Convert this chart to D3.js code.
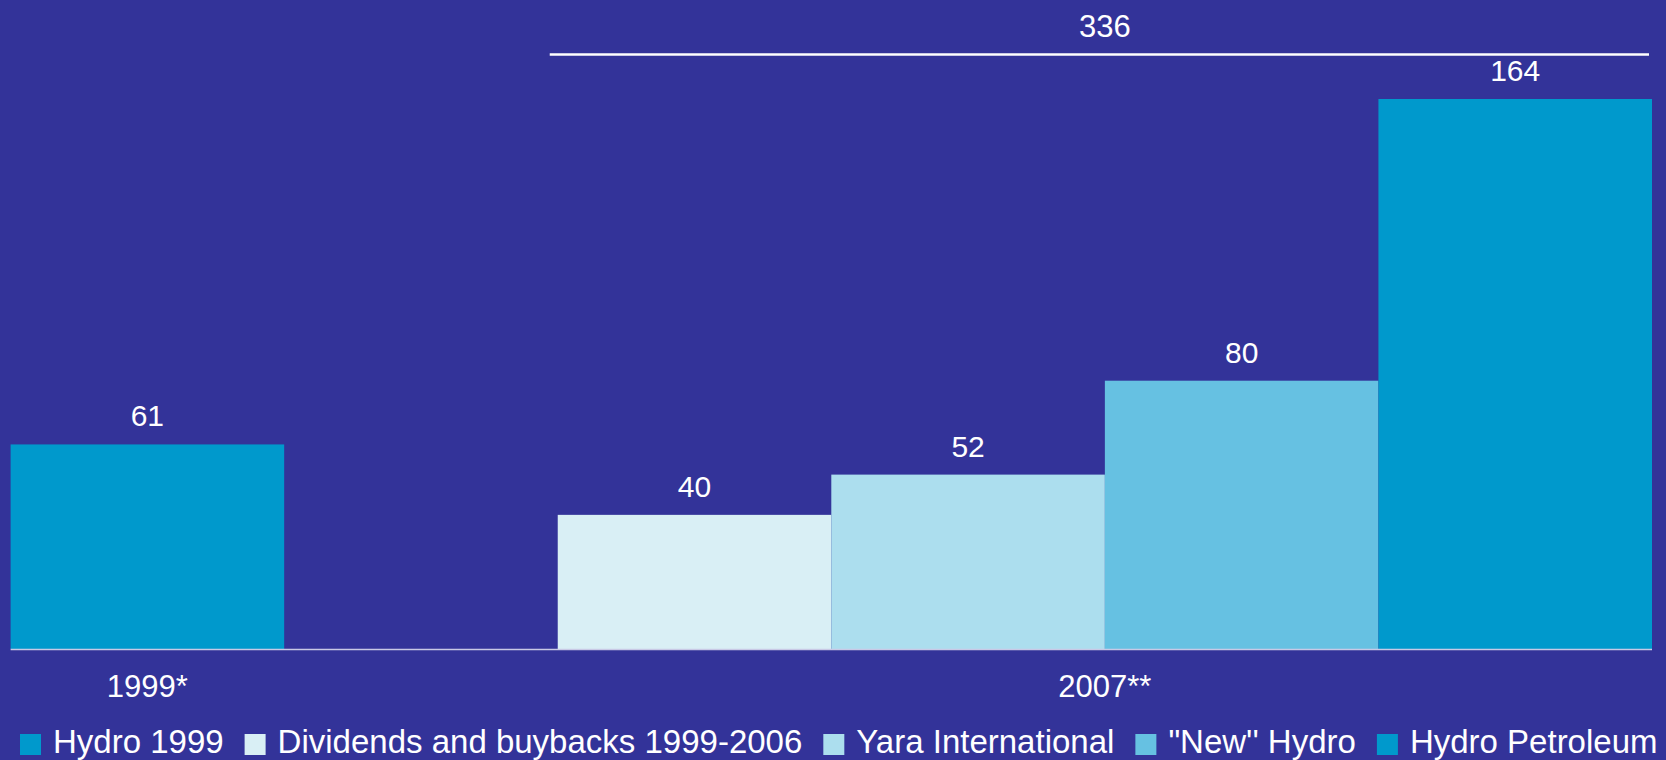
<!DOCTYPE html>
<html>
<head>
<meta charset="utf-8">
<script src="https://cdn.jsdelivr.net/npm/d3@7"></script>
<style>
  html, body { margin: 0; padding: 0; background: #333399; }
  svg { display: block; font-family: Arial, 'Liberation Sans', sans-serif; }
</style>
</head>
<body>
<div id="container"></div>
<script>
const slots = ['Hydro 1999', 'gap', 'Dividends and buybacks 1999-2006', 'Yara International', '"New\'\' Hydro', 'Hydro Petroleum'],
  series = ['Hydro 1999', 'Dividends and buybacks 1999-2006', 'Yara International', '"New\'\' Hydro', 'Hydro Petroleum'],
  values = [61, 40, 52, 80, 164],
  colours = ['#0099cc', '#d9eff5', '#acdeee', '#66c1e2', '#0099cc'],
  groups = ['1999*', '2007**'],
  groupSlots = [['Hydro 1999'], ['Dividends and buybacks 1999-2006', 'Hydro Petroleum']],
  total = 336,
  width = 1666,
  height = 760,
  baseY = 649

const svg = d3.select('#container')
  .append('svg')
    .attr('width', width)
    .attr('height', height)

const x = d3.scaleBand()
    .domain(slots)
    .range([10.6, 1652])
    .padding(0),
  y = d3.scaleLinear()
    .domain([0, 164])
    .range([baseY, 99])

// bars
svg.append('g')
  .selectAll('rect')
  .data(series)
  .enter()
  .append('rect')
    .attr('x', d => x(d))
    .attr('y', (d, i) => y(values[i]))
    .attr('width', x.bandwidth())
    .attr('height', (d, i) => y(0) - y(values[i]))
    .attr('fill', (d, i) => colours[i])

// value labels
svg.append('g')
  .selectAll('text')
  .data(series)
  .enter()
  .append('text')
    .attr('x', d => x(d) + x.bandwidth() / 2)
    .attr('y', (d, i) => y(values[i]) - 18)
    .attr('text-anchor', 'middle')
    .attr('fill', '#fff')
    .style('font-size', '30px')
    .text((d, i) => values[i])

// baseline
svg.append('line')
  .attr('x1', x.range()[0])
  .attr('x2', x.range()[1])
  .attr('y1', y(0) + 0.5)
  .attr('y2', y(0) + 0.5)
  .attr('stroke', '#c9c9e6')
  .attr('stroke-width', 1.5)

// total bracket line + label
const lx1 = x(series[1]) - 8,
  lx2 = x.range()[1] - 3
svg.append('line')
  .attr('x1', lx1)
  .attr('x2', lx2)
  .attr('y1', 54.5)
  .attr('y2', 54.5)
  .attr('stroke', '#fff')
  .attr('stroke-width', 2.5)
svg.append('text')
  .attr('x', (x(series[1]) + x.range()[1]) / 2)
  .attr('y', 37)
  .attr('text-anchor', 'middle')
  .attr('fill', '#fff')
  .style('font-size', '31px')
  .text(total)

// category labels
svg.append('g')
  .selectAll('text')
  .data(groups)
  .enter()
  .append('text')
    .attr('x', (d, i) => {
      const s = groupSlots[i]
      return (x(s[0]) + x(s[s.length - 1]) + x.bandwidth()) / 2
    })
    .attr('y', 697)
    .attr('text-anchor', 'middle')
    .attr('fill', '#fff')
    .style('font-size', '31px')
    .text(d => d)

// legend
const legend = svg.append('g').attr('transform', 'translate(20,0)')
let lx = 0
series.forEach((s, i) => {
  const item = legend.append('g').attr('transform', `translate(${lx},0)`)
  item.append('rect')
    .attr('x', 0)
    .attr('y', 734)
    .attr('width', 21)
    .attr('height', 21)
    .attr('fill', colours[i])
  const t = item.append('text')
    .attr('x', 33)
    .attr('y', 753)
    .attr('fill', '#fff')
    .style('font-size', '33px')
    .text(s)
  lx += 33 + t.node().getComputedTextLength() + 21
})
</script>
</body>
</html>
